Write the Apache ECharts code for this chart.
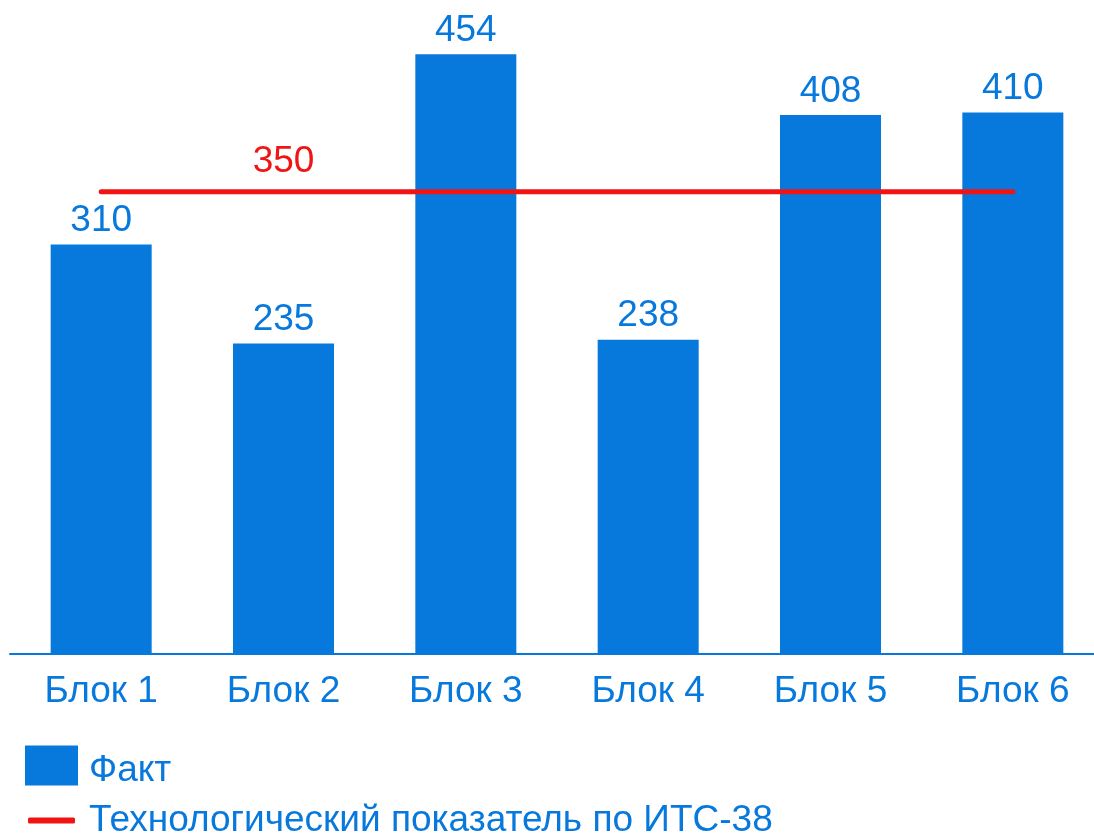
<!DOCTYPE html>
<html>
<head>
<meta charset="utf-8">
<script src="https://cdn.jsdelivr.net/npm/echarts@6/dist/echarts.min.js"></script>
<style>
html, body { margin: 0; padding: 0; background: #fff; }
#chart { width: 1094px; height: 839px; }
</style>
</head>
<body>
<div id="chart"></div>
<script>
// данные
const categories = ['Блок 1', 'Блок 2', 'Блок 3', 'Блок 4', 'Блок 5', 'Блок 6'];
const factValues = [310, 235, 454, 238, 408, 410];
const normValues = [350, 350, 350, 350, 350, 350];
const normLabelIndex = 1;

const BLUE = '#0778dc';
const RED = '#f01414';
const FONT = '"Liberation Sans", Arial, sans-serif';
const FS = 37;

const chartObj = echarts.init(document.getElementById('chart'));

const options = {
    animation: false,
    textStyle: { fontFamily: FONT },
    grid: { left: 10, width: 1094, top: 20, bottom: 185, outerBoundsMode: 'none', containLabel: false },
    legend: [
        {
            data: ['Факт'],
            orient: 'vertical',
            left: 25,
            top: 742,
            padding: 0,
            icon: 'rect',
            itemWidth: 53,
            itemHeight: 40,
            // пустая первая строка опускает подпись немного ниже центра значка
            formatter: name => '\n' + name,
            textStyle: { color: BLUE, fontSize: FS, fontFamily: FONT, lineHeight: 10, padding: [0, 0, 0, 6] }
        },
        {
            data: ['Технологический показатель по ИТС-38'],
            orient: 'vertical',
            left: 28,
            top: 802,
            padding: 0,
            icon: 'roundRect',
            itemWidth: 47,
            itemHeight: 6,
            itemStyle: { color: RED },
            textStyle: { color: BLUE, fontSize: FS, fontFamily: FONT, padding: [0, 0, 0, 9] }
        }
    ],
    xAxis: {
        type: 'category',
        data: categories,
        axisTick: { show: false },
        axisLine: { lineStyle: { color: BLUE, width: 2 } },
        axisLabel: { color: BLUE, fontSize: FS, fontFamily: FONT, margin: 19 }
    },
    yAxis: {
        type: 'value',
        min: 0,
        max: 480,
        show: false,
        splitLine: { show: false }
    },
    series: [
        {
            name: 'Факт',
            type: 'bar',
            data: factValues,
            barWidth: 101,
            itemStyle: { color: BLUE },
            label: {
                show: true,
                position: 'top',
                distance: 5,
                color: BLUE,
                fontSize: FS,
                fontFamily: FONT
            }
        },
        {
            name: 'Технологический показатель по ИТС-38',
            type: 'line',
            data: normValues.map((v, i) => ({
                value: v,
                label: { show: i === normLabelIndex }
            })),
            symbol: 'circle',
            symbolSize: 0,
            lineStyle: { color: RED, width: 5, cap: 'round' },
            itemStyle: { color: RED },
            label: {
                position: 'top',
                distance: 11,
                color: RED,
                fontSize: FS,
                fontFamily: FONT
            },
            z: 3
        }
    ]
};

chartObj.setOption(options);
</script>
</body>
</html>
